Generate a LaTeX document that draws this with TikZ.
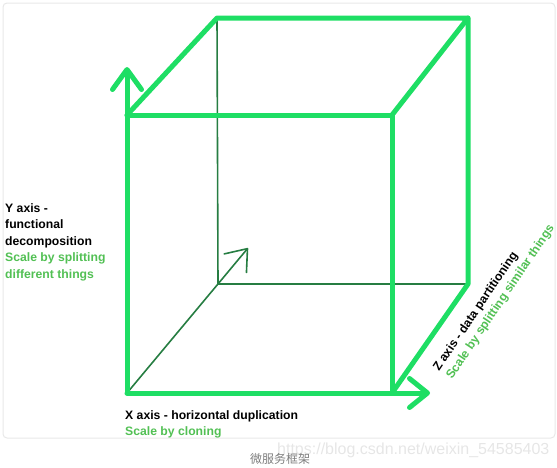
\documentclass[tikz,border=0pt]{standalone}
\usepackage{fontspec}
\setmainfont{Liberation Sans}
\newfontfamily\cjk{Noto Sans CJK SC}
\usetikzlibrary{arrows.meta}
\definecolor{cubegreen}{RGB}{30,222,100}
\definecolor{hiddengreen}{RGB}{38,125,66}
\definecolor{labelgreen}{RGB}{82,192,84}
\definecolor{framegray}{RGB}{232,232,232}
\definecolor{markgray}{RGB}{230,230,230}
\definecolor{captiongray}{RGB}{125,125,125}

\begin{document}
\begin{tikzpicture}[x=1pt, y=-1pt,
            edge/.style={cubegreen, line width=5pt, line cap=round, line join=round},
            hidden/.style={hiddengreen, line width=1.6pt, line cap=round},
            axis tip/.style={-{Straight Barb[length=#1, width=29pt, round]}},
            axis label/.style={font=\bfseries\fontsize{12.2}{16.5}\selectfont, align=left, inner sep=0pt}
        ]

            \useasboundingbox (0,0) rectangle (557,467);
            \draw[framegray, line width=1pt, rounded corners=4pt] (3,3) rectangle (555,438);

            \coordinate (A) at (127,393);
            \coordinate (B) at (392,393);
            \coordinate (C) at (392,115);
            \coordinate (D) at (127,115);
            \coordinate (E) at (218,284);
            \coordinate (F) at (468,284);
            \coordinate (G) at (468,18);
            \coordinate (H) at (217,18);
            \coordinate (Yend) at (127,67);
            \coordinate (Xend) at (430,393);
            \coordinate (Zend) at (248,248);

            \draw[hidden] (E) -- (H);
            \draw[hidden] (E) -- (F);
            \draw[hidden, axis tip=19pt] (A) -- (Zend);

            \draw[edge] (D) -- (C) -- (B);
            \draw[edge] (D) -- (H) -- (G) -- (C);
            \draw[edge] (G) -- (F) -- (B);
            \draw[edge, axis tip=20pt] (A) -- (Yend);
            \draw[edge, axis tip=18pt] (A) -- (Xend);

            \node[axis label, anchor=base west] (ylabel) at (5,278) {Y axis -\\functional\\decomposition\\\textcolor{labelgreen}{Scale by splitting}\\\textcolor{labelgreen}{different things}};
            \node[axis label, anchor=base west] (xlabel) at (125,419) {X axis - horizontal duplication};
            \node[axis label, anchor=base west, labelgreen] (xscale) at (125,435.5) {Scale by cloning};
            \node[axis label, anchor=base west, rotate=56] (zlabel) at (439,372) {Z axis - data partitioning};
            \node[axis label, anchor=base west, rotate=56, labelgreen] (zscale) at (452,380) {Scale by splitting similar things};

            \node[markgray, font=\fontsize{16}{16}\selectfont, anchor=base west, inner sep=0pt] (mark) at (277,454) {https://blog.csdn.net/weixin\_54585403};
            \node[captiongray, font=\cjk\fontsize{12}{12}\selectfont, inner sep=0pt] (caption) at (280,458.5) {微服务框架};
        \end{tikzpicture}
\end{document}
